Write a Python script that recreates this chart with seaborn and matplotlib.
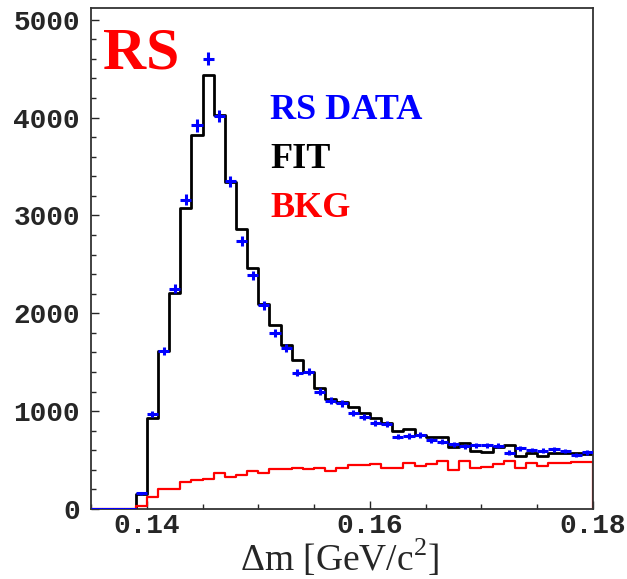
import numpy as np
import pandas as pd
import matplotlib
matplotlib.use("Agg")
import matplotlib.pyplot as plt
import seaborn as sns
from matplotlib.ticker import MultipleLocator, FormatStrFormatter

sns.set_style("ticks")
plt.rcParams['font.family'] = ['Liberation Mono', 'DejaVu Sans']
plt.rcParams['mathtext.fontset'] = 'custom'
plt.rcParams['mathtext.rm'] = 'Liberation Serif'

# bin edges: 0.135 .. 0.180 GeV/c^2, 1 MeV bins
edges = [round(0.135 + 0.001 * i, 3) for i in range(46)]
centers = [e + 0.0005 for e in edges[:-1]]

# RS data (counts per bin)
data = [0, 0, 0, 0, 160, 969, 1619, 2250, 3159, 3920, 4602, 4014, 3350, 2741,
        2388, 2084, 1796, 1643, 1393, 1403, 1199, 1107, 1080, 977, 943, 882,
        868, 738, 745, 755, 704, 687, 660, 643, 653, 653, 646, 574, 619, 602,
        595, 609, 592, 551, 578]

# fit
fit = [0, 0, 0, 0, 158, 930, 1610, 2205, 3073, 3824, 4440, 4031, 3339, 2862,
       2464, 2100, 1881, 1676, 1523, 1400, 1233, 1124, 1096, 1045, 984, 926,
       875, 800, 813, 755, 731, 738, 636, 678, 595, 585, 636, 650, 541, 575,
       541, 575, 575, 568, 561]

# background
bkg = [0, 0, 0, 0, 28, 120, 200, 200, 277, 301, 311, 363, 329, 350, 388, 363,
       404, 404, 424, 409, 414, 390, 424, 452, 445, 459, 424, 424, 466, 438,
       459, 489, 397, 489, 414, 431, 459, 492, 421, 466, 438, 466, 472, 482,
       482]

df = pd.DataFrame({"dm": centers, "data": data, "fit": fit, "bkg": bkg})

fig = plt.figure(figsize=(6.27, 5.79), dpi=100)
ax = fig.add_axes([91/627, 1 - 509/579, 502/627, 501/579])

sns.histplot(data=df, x="dm", weights="fit", bins=edges, element="step",
             fill=False, color="black", linewidth=2.0, ax=ax)
sns.histplot(data=df, x="dm", weights="bkg", bins=edges, element="step",
             fill=False, color="red", linewidth=1.6, ax=ax)
ax.vlines(edges[-1], 0, bkg[-1], color="red", linewidth=1.6)

ax.errorbar(df["dm"], df["data"], xerr=0.0005, yerr=np.sqrt(df["data"]),
            fmt="none", ecolor="blue", elinewidth=2.2, capsize=0, zorder=5)

ax.set_xlim(0.135, 0.18)
ax.set_ylim(0, 5120)
ax.xaxis.set_major_locator(MultipleLocator(0.02))
ax.xaxis.set_minor_locator(MultipleLocator(0.005))
ax.xaxis.set_major_formatter(FormatStrFormatter('%.2f'))
ax.yaxis.set_major_locator(MultipleLocator(1000))
ax.yaxis.set_minor_locator(MultipleLocator(200))
ax.tick_params(axis='both', which='major', direction='in', length=6, width=1,
               labelsize=20)
ax.tick_params(axis='x', which='major', pad=3)
ax.tick_params(axis='y', which='major', pad=8)
ax.tick_params(axis='both', which='minor', direction='in', length=3.5, width=1)
for lab in ax.get_xticklabels() + ax.get_yticklabels():
    lab.set_fontweight('bold')
for s in ax.spines.values():
    s.set_color('#333333')
    s.set_linewidth(1.3)

ax.set_ylabel("")
ax.set_xlabel("")
fig.text(340/627, 1 - 571/579, r"$\Delta$m [GeV/c$^2$]", fontsize=27,
         family='Liberation Serif', ha="center", va="baseline")

serif = 'Liberation Serif'
ax.text(0.024, 0.880, "RS", transform=ax.transAxes, color="red", fontsize=43,
        fontweight="bold", family=serif, va="baseline")
ax.text(0.357, 0.778, "RS DATA", transform=ax.transAxes, color="blue",
        fontsize=26, fontweight="bold", family=serif, va="baseline")
ax.text(0.357, 0.681, "FIT", transform=ax.transAxes, color="black",
        fontsize=26, fontweight="bold", family=serif, va="baseline")
ax.text(0.357, 0.583, "BKG", transform=ax.transAxes, color="red",
        fontsize=26, fontweight="bold", family=serif, va="baseline")

fig.savefig("out.png", dpi=100)
